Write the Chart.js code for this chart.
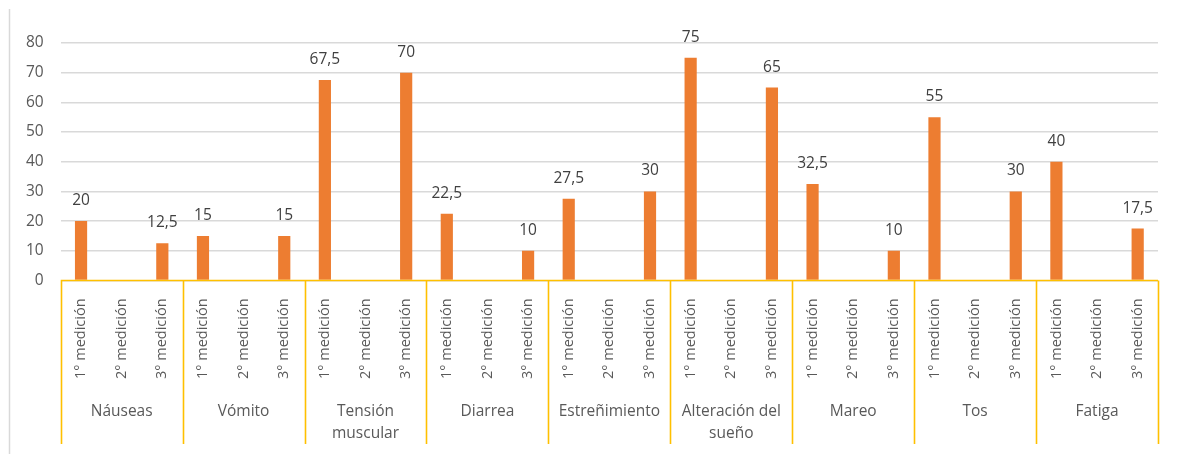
<!DOCTYPE html>
<html>
<head>
<meta charset="UTF-8">
<title>Síntomas por medición</title>
<script src="https://cdn.jsdelivr.net/npm/chart.js"></script>
<style>
    html, body {
        margin: 0;
        padding: 0;
        background: #ffffff;
    }
    #wrap {
        width: 1177px;
        height: 454px;
        position: relative;
    }
</style>
</head>
<body>
<div id="wrap"><canvas id="chart"></canvas></div>
<script>
// symptom groups and the three measurements inside each
const groups = ['Náuseas', 'Vómito', ['Tensión', 'muscular'], 'Diarrea', 'Estreñimiento',
    ['Alteración del', 'sueño'], 'Mareo', 'Tos', 'Fatiga'];
const measurements = ['1° medición', '2° medición', '3° medición'];

// percentage per symptom, one value per measurement
const nauseas    = [20, 0, 12.5];
const vomito     = [15, 0, 15];
const tension    = [67.5, 0, 70];
const diarrea    = [22.5, 0, 10];
const estrenim   = [27.5, 0, 30];
const sueno      = [75, 0, 65];
const mareo      = [32.5, 0, 10];
const tos        = [55, 0, 30];
const fatiga     = [40, 0, 17.5];

const yTicks = [0, 10, 20, 30, 40, 50, 60, 70, 80];

const values = [].concat(nauseas, vomito, tension, diarrea, estrenim, sueno, mareo, tos, fatiga);
const labels = groups.flatMap(() => measurements);

const FONT = "'Open Sans', sans-serif";
const GOLD = '#FFC000';

// numbers above each bar, Spanish decimal comma
const barValues = {
    id: 'barValues',
    afterDatasetsDraw(chart) {
        const ctx = chart.ctx;
        const meta = chart.getDatasetMeta(0);
        ctx.save();
        ctx.font = '15.5px ' + FONT;
        ctx.fillStyle = '#404040';
        ctx.textAlign = 'center';
        ctx.textBaseline = 'alphabetic';
        meta.data.forEach((bar, i) => {
            const v = values[i];
            if (!v) return;
            ctx.fillText(String(v).replace('.', ','), bar.x, bar.y - 16);
        });
        ctx.restore();
    }
};

// group separators on the category axis and the left frame edge
const groupLines = {
    id: 'groupLines',
    afterDraw(chart) {
        const ctx = chart.ctx;
        const x = chart.scales.x;
        const step = (x.right - x.left) / groups.length;
        const bottom = chart.height - 10;
        ctx.save();
        ctx.strokeStyle = GOLD;
        ctx.lineWidth = 1.6;
        ctx.beginPath();
        for (let k = 0; k <= groups.length; k++) {
            const px = Math.round(x.left + k * step) + 0.5;
            ctx.moveTo(px, x.top);
            ctx.lineTo(px, bottom);
        }
        ctx.moveTo(x.left, x.top);
        ctx.lineTo(x.right, x.top);
        ctx.stroke();

        ctx.strokeStyle = '#D9D9D9';
        ctx.lineWidth = 1.5;
        ctx.beginPath();
        ctx.moveTo(9.5, 9);
        ctx.lineTo(9.5, chart.height);
        ctx.stroke();
        ctx.restore();
    }
};

new Chart(document.getElementById('chart'), {
    type: 'bar',
    data: {
        labels: labels,
        datasets: [{
            data: values,
            backgroundColor: '#ED7D31',
            borderWidth: 0,
            barPercentage: 0.3,
            categoryPercentage: 1
        }]
    },
    options: {
        responsive: true,
        maintainAspectRatio: false,
        animation: false,
        layout: {
            padding: {left: 9, right: 19, top: 43, bottom: -2}
        },
        plugins: {
            legend: {display: false},
            tooltip: {enabled: false}
        },
        scales: {
            y: {
                min: 0,
                max: 80,
                afterBuildTicks(scale) {
                    scale.ticks = yTicks.map(v => ({value: v}));
                },
                grid: {
                    color: '#D9D9D9',
                    lineWidth: 1.5,
                    drawTicks: false
                },
                border: {display: false},
                ticks: {
                    color: '#595959',
                    font: {family: FONT, size: 15.5},
                    padding: 17
                }
            },
            x: {
                grid: {display: false},
                border: {display: false},
                ticks: {
                    autoSkip: false,
                    minRotation: 90,
                    maxRotation: 90,
                    padding: 10,
                    color: '#595959',
                    font: {family: FONT, size: 14.5}
                }
            },
            x2: {
                type: 'category',
                position: 'bottom',
                labels: groups,
                offset: true,
                grid: {display: false, drawTicks: false},
                border: {display: false},
                ticks: {
                    autoSkip: false,
                    maxRotation: 0,
                    padding: 11,
                    color: '#595959',
                    font: {family: FONT, size: 15.5, lineHeight: 1.45}
                }
            }
        }
    },
    plugins: [barValues, groupLines]
});
</script>
</body>
</html>
